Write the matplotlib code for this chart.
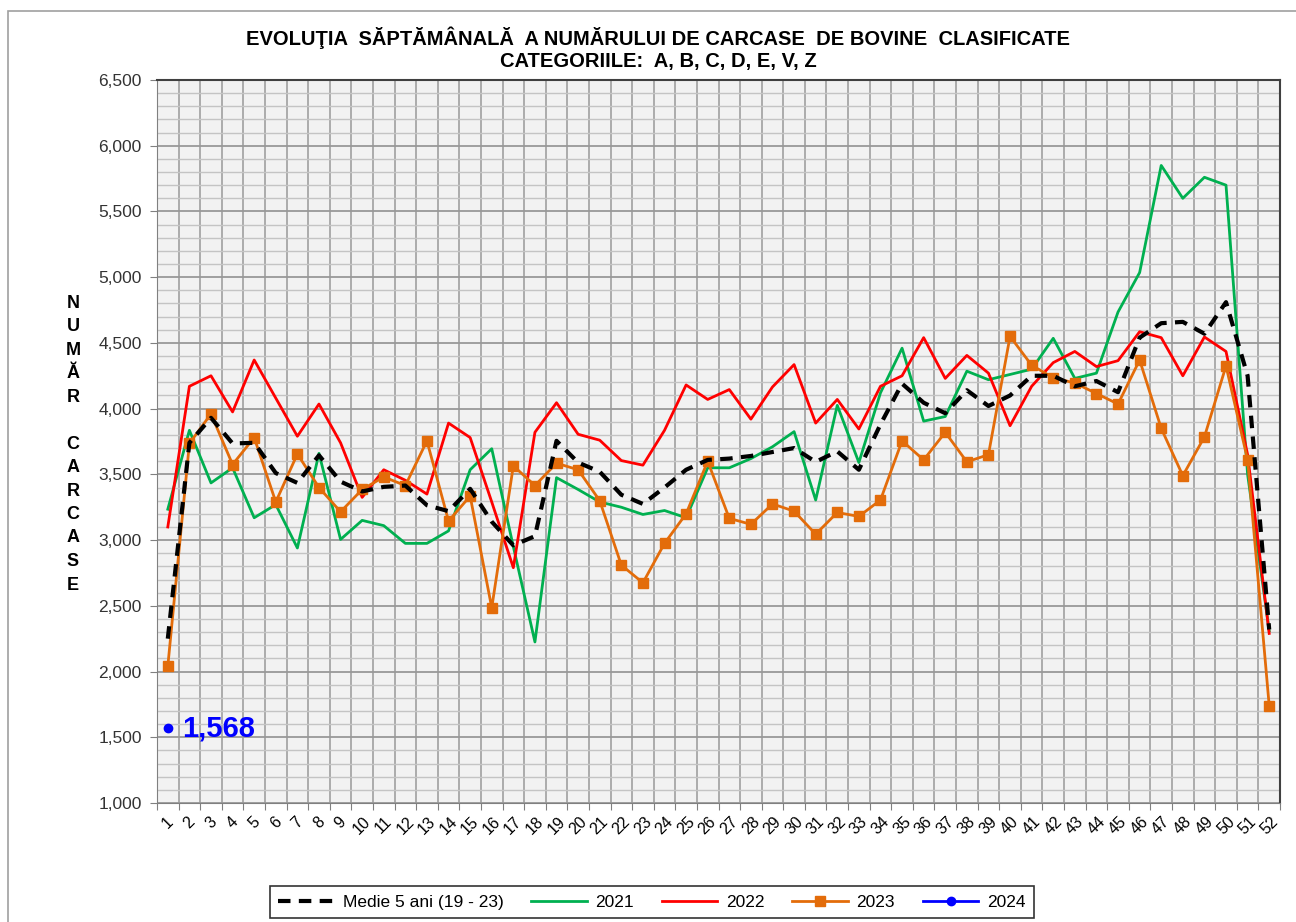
import matplotlib.pyplot as plt
import numpy as np
from matplotlib.patches import Rectangle
from matplotlib.ticker import FuncFormatter, MultipleLocator

plt.rcParams['font.family'] = ['Liberation Sans', 'DejaVu Sans']

weeks = np.arange(1, 53)

medie = [2250, 3740, 3930, 3735, 3740, 3510, 3435, 3645, 3445, 3370,
         3405, 3415, 3265, 3220, 3390, 3140, 2960, 3030, 3755, 3590,
         3520, 3345, 3275, 3400, 3535, 3610, 3620, 3640, 3670, 3700,
         3595, 3675, 3535, 3880, 4190, 4045, 3965, 4140, 4020, 4100,
         4250, 4250, 4170, 4210, 4125, 4540, 4650, 4660, 4570, 4810,
         4250, 2320]
y2021 = [3235, 3835, 3435, 3550, 3170, 3270, 2940, 3660, 3005, 3150,
         3110, 2975, 2975, 3070, 3535, 3695, 2950, 2225, 3475, 3385,
         3290, 3250, 3195, 3225, 3170, 3550, 3550, 3620, 3710, 3825,
         3305, 4025, 3590, 4120, 4460, 3905, 3940, 4285, 4220, 4260,
         4300, 4535, 4230, 4270, 4735, 5035, 5850, 5600, 5760, 5700,
         3500, 2310]
y2022 = [3100, 4170, 4250, 3975, 4370, 4080, 3790, 4035, 3740, 3325,
         3535, 3455, 3350, 3890, 3780, 3290, 2790, 3820, 4045, 3805,
         3760, 3605, 3570, 3835, 4180, 4070, 4145, 3920, 4165, 4335,
         3890, 4070, 3845, 4170, 4250, 4540, 4230, 4405, 4270, 3870,
         4170, 4350, 4435, 4320, 4365, 4585, 4540, 4250, 4545, 4435,
         3650, 2290]
y2023 = [2040, 3735, 3960, 3575, 3780, 3290, 3655, 3400, 3215, 3385,
         3480, 3415, 3755, 3145, 3335, 2485, 3565, 3415, 3585, 3535,
         3300, 2810, 2675, 2975, 3200, 3600, 3165, 3120, 3275, 3220,
         3045, 3210, 3180, 3305, 3755, 3610, 3820, 3595, 3650, 4550,
         4330, 4235, 4195, 4115, 4035, 4370, 3850, 3490, 3785, 4325,
         3610, 1740]
weeks_2024 = [1]
y2024 = [1568]

fig = plt.figure(figsize=(12.96, 9.22), dpi=100)
fig.patches.append(Rectangle((8 / 1296, -0.01), 1.02, 1 - 11 / 922 + 0.01,
                             transform=fig.transFigure, fill=False,
                             edgecolor='#a0a0a0', linewidth=1.2))

ax = fig.add_axes([157 / 1296, 1 - 803 / 922, (1280 - 157) / 1296, (803 - 80) / 922])
ax.set_facecolor('#f2f2f2')

ax.set_xlim(0.5, 52.5)
ax.set_ylim(1000, 6500)

# grid: major every 500, minor every 100, vertical at category boundaries
ax.yaxis.set_major_locator(MultipleLocator(500))
ax.yaxis.set_minor_locator(MultipleLocator(100))
ax.set_xticks(np.arange(0.5, 53, 1))
ax.set_xticks(weeks, minor=True)
ax.set_xticklabels([])
ax.set_xticklabels([str(w) for w in weeks], minor=True, rotation=45,
                   ha='center', fontsize=11.5)
ax.tick_params(axis='x', which='minor', length=0, pad=8)
ax.tick_params(axis='x', which='major', length=5, color='#808080')
ax.tick_params(axis='y', which='major', length=5, color='#808080', labelsize=12.5,
               labelcolor='#333333', pad=6)
ax.tick_params(axis='y', which='minor', length=0)
ax.yaxis.set_major_formatter(FuncFormatter(lambda v, p: f"{int(v):,}"))

ax.grid(True, which='major', axis='x', color='#999999', linewidth=1.1)
ax.grid(True, which='major', axis='y', color='#999999', linewidth=1.3)
ax.grid(True, which='minor', axis='y', color='#c4c4c4', linewidth=1.0)
ax.set_axisbelow(True)

for s in ['left', 'bottom']:
    ax.spines[s].set_color('#808080')
for s in ['top', 'right']:
    ax.spines[s].set_color('#404040')
    ax.spines[s].set_linewidth(1.5)

ax.plot(weeks, y2021, color='#00b050', lw=2, label='2021', zorder=3)
ax.plot(weeks, y2022, color='#ff0000', lw=2, label='2022', zorder=3)
ax.plot(weeks, y2023, color='#e36c0a', lw=2, marker='s', markersize=7,
        label='2023', zorder=4)
ax.plot(weeks, medie, color='black', lw=3, ls=(0, (3, 2)),
        label='Medie 5 ani (19 - 23)', zorder=5)
ax.plot(weeks_2024, y2024, color='#0000ff', lw=2, marker='o', markersize=6,
        label='2024', zorder=6)
ax.annotate(f"{y2024[0]:,}", (weeks_2024[0], y2024[0]), xytext=(10, 0),
            textcoords='offset points', va='center', ha='left',
            fontsize=21, fontweight='bold', color='#0000ff')

fig.text(658 / 1296, 1 - 38 / 922, "EVOLUŢIA  SĂPTĂMÂNALĂ  A NUMĂRULUI DE CARCASE  DE BOVINE  CLASIFICATE",
         ha='center', va='center', fontsize=14.5, fontweight='bold')
fig.text(658 / 1296, 1 - 61 / 922, "CATEGORIILE:  A, B, C, D, E, V, Z",
         ha='center', va='center', fontsize=14.5, fontweight='bold')

fig.text(73 / 1296, 1 - 444 / 922, "N\nU\nM\nĂ\nR\n\nC\nA\nR\nC\nA\nS\nE",
         ha='center', va='center', fontsize=13, fontweight='bold', linespacing=1.5)

handles, labels = ax.get_legend_handles_labels()
order = [3, 0, 1, 2, 4]
leg = fig.legend([handles[i] for i in order], [labels[i] for i in order],
                 loc='center', bbox_to_anchor=(652 / 1296, 1 - 902 / 922),
                 ncol=5, frameon=True, fancybox=False, edgecolor='black',
                 fontsize=12.5, handlelength=3.2, columnspacing=1.6,
                 handletextpad=0.5, borderpad=0.5)
leg.get_frame().set_linewidth(1.2)

fig.savefig('out.png', dpi=100)
